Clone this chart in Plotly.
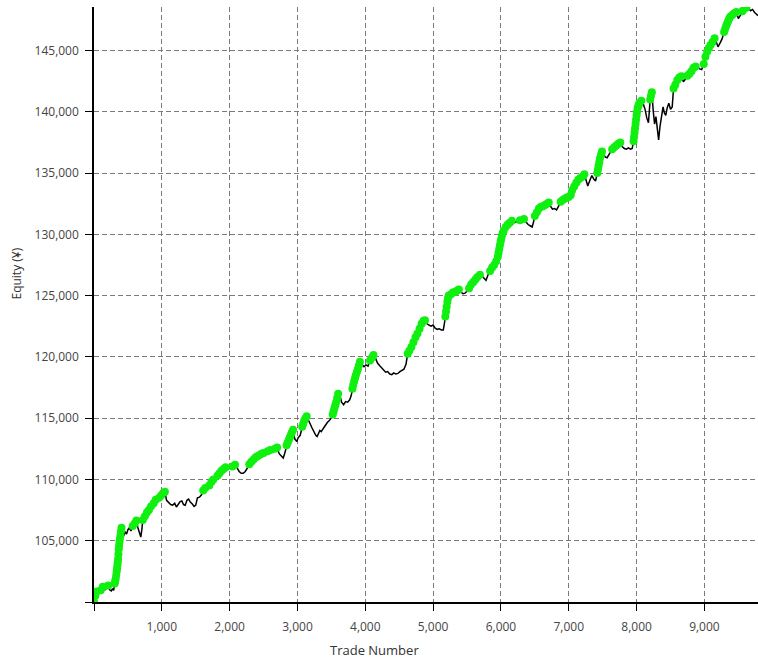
import numpy as np
import plotly.graph_objects as go

trade_num = [
    0, 20, 40, 70, 100, 130, 160, 190, 210, 230, 255, 275, 290, 305, 320, 335, 345, 355, 365, 375,
    390, 405, 420, 440, 460, 480, 500, 520, 545, 570, 600, 625, 645, 665, 690, 705, 720, 750, 780, 810,
    840, 860, 880, 910, 935, 960, 990, 1020, 1045, 1070, 1100, 1130, 1160, 1190, 1215, 1245, 1270, 1295, 1320, 1345,
    1370, 1395, 1420, 1450, 1475, 1500, 1525, 1555, 1585, 1610, 1640, 1670, 1700, 1730, 1760, 1790, 1820, 1850, 1880, 1910,
    1940, 1970, 2000, 2040, 2080, 2110, 2140, 2170, 2200, 2230, 2260, 2290, 2320, 2350, 2380, 2410, 2440, 2470, 2500, 2530,
    2560, 2600,
    2640, 2670, 2700, 2730, 2760, 2790, 2810, 2840, 2870, 2900, 2935, 2960, 2990, 3010, 3040, 3070, 3100, 3135, 3160, 3190,
    3215, 3240, 3270, 3290, 3310, 3330, 3350, 3380, 3410, 3440, 3470, 3500, 3520, 3545, 3570, 3600, 3625, 3650, 3680, 3710,
    3740, 3770, 3790, 3810, 3835, 3860, 3890, 3920, 3950, 3980, 4010, 4040, 4070, 4100, 4120, 4150, 4180, 4210, 4240, 4270,
    4300, 4330, 4360, 4390, 4420, 4450, 4480, 4510, 4540, 4570, 4600, 4625, 4650, 4680, 4710, 4740, 4770, 4800, 4830, 4860,
    4880,
    4910, 4940, 4970, 5000, 5030, 5060, 5090, 5120, 5150, 5170, 5190, 5210, 5230, 5260, 5290, 5320, 5350, 5380, 5410, 5440,
    5470, 5500, 5530, 5560, 5590, 5620, 5650, 5690, 5720, 5750, 5780, 5810, 5840, 5870, 5900, 5930, 5955, 5975, 5995, 6015,
    6040, 6070, 6100, 6130, 6160, 6190, 6220, 6250, 6280, 6310, 6340, 6370, 6400, 6430, 6460, 6480, 6500, 6530, 6560, 6590,
    6620, 6650, 6680, 6705, 6730, 6760, 6790, 6820, 6850, 6880, 6910, 6940, 6970, 7000, 7030, 7050, 7080, 7110, 7140, 7170,
    7200, 7230, 7260, 7280, 7310, 7340, 7370, 7395, 7420, 7440, 7460, 7490,
    7510, 7540, 7565, 7590, 7615, 7640, 7670, 7700, 7730, 7760, 7790, 7820, 7850, 7880, 7910, 7935, 7955, 7970, 7985, 8000,
    8015, 8040, 8070, 8100, 8125, 8150, 8175, 8200, 8225, 8245, 8265, 8285, 8305, 8325, 8345, 8365, 8390, 8410, 8430, 8450,
    8475, 8500, 8525, 8545, 8570, 8600, 8630, 8660, 8690, 8720, 8750, 8780, 8810, 8840, 8870, 8900, 8930, 8960, 8990, 9015,
    9040, 9065, 9090, 9120, 9150, 9175, 9200, 9230, 9260, 9290, 9320, 9350, 9380, 9410, 9440, 9470, 9500, 9530, 9560, 9590,
    9620, 9650, 9680, 9710, 9740, 9770, 9790,
]

equity = [
    100000, 100500, 100850, 100700, 100950, 101250, 101000, 101150, 101350, 101000, 100900, 101100, 100950, 101500, 101900, 102500, 103000, 103500, 104300, 104900,
    105400, 106050, 105600, 105450, 105700, 105550, 105900, 106050, 105800, 106200, 106400, 106650, 106100, 105700, 105300, 105900, 106700, 107000, 107300, 107500,
    107800, 107650, 108050, 108350, 108200, 108500, 108700, 108900, 109000, 108300, 108100, 107950, 107900, 108050, 107750, 107950, 108200, 108250, 107950, 107900,
    108300, 108400, 108150, 108000, 107800, 107900, 108500, 108550, 108750, 109100, 109300, 109200, 109500, 109800, 110000, 109900, 110300, 110500, 110700, 110850,
    111000, 110800, 110950, 111050, 111200, 110950, 110650, 110500, 110500, 110650, 110900, 111250, 111450, 111600, 111800, 111900, 112000, 112100, 112150, 112050,
    112300, 112400,
    112250, 112500, 112600, 112100, 111900, 111750, 112100, 112800, 113200, 113600, 114050, 113300, 113100, 113400, 113600, 114300, 114800, 115150, 114900, 114500,
    114200, 113900, 113600, 113500, 113800, 114000, 113900, 114200, 114400, 114650, 114800, 115050, 115300, 115800, 116300, 117000, 116900, 116300, 116100, 116350,
    116300, 116500, 116800, 117400, 118000, 118500, 119000, 119600, 119400, 119200, 119350, 119250, 119700, 119950, 120150, 119900, 119500, 119300, 119100, 118900,
    118750, 118800, 118600, 118550, 118700, 118600, 118650, 118800, 118900, 119000, 119400, 120250, 120500, 120800, 121200, 121600, 121900, 122300, 122700, 122950,
    123000,
    122700, 122600, 122500, 122600, 122350, 122250, 122300, 122200, 122200, 122900, 123700, 124500, 125000, 125100, 125250, 125300, 125400, 125500, 125300, 125150,
    125200, 125350, 125600, 125900, 126100, 126300, 126500, 126700, 126600, 126400, 126250, 126700, 127000, 127300, 127500, 127800, 128200, 128800, 129400, 129900,
    130300, 130600, 130800, 130950, 131100, 131050, 131000, 131100, 131150, 131050, 131250, 131000, 130800, 130700, 130600, 131000, 131500, 131800, 132100, 132250,
    132300, 132400, 132500, 132600, 132300, 132050, 132100, 132000, 132300, 132650, 132800, 132900, 133000, 133050, 133200, 133600, 133900, 134200, 134450, 134600,
    134700, 134900, 134300, 133950, 134400, 134800, 134500, 134350, 135000, 135600, 136200, 136750,
    136600, 136300, 136250, 136500, 136700, 136950, 137100, 137250, 137400, 137500, 137150, 137000, 136950, 137050, 136950, 137000, 137600, 138300, 139000, 139700,
    140300, 140700, 140900, 140600, 140200, 139500, 139100, 141000, 141600, 140100, 139000, 139600, 138600, 137700, 138800, 139600, 140400, 139900, 139700, 140300,
    140700, 140200, 140400, 141900, 142200, 142600, 142800, 142900, 142450, 142700, 142950, 143100, 143300, 143600, 143700, 143650, 143500, 143450, 143900, 144500,
    144900, 145200, 145450, 145700, 146000, 145700, 145300, 145600, 145950, 146500, 147000, 147400, 147750, 147900, 148050, 148150, 147600, 147900, 148200, 148400,
    148500, 148450, 148250, 148350, 148100, 147950, 147850,
]

# extra readings taken along the steep climbs
steep_trade_num = [
    312, 328, 340, 350, 360, 370, 382, 397,
    2855, 2885, 2918, 3085, 3118,
    3532, 3557, 3585, 3822, 3848, 3875, 3905,
    5160, 5180, 5200, 5220, 5965, 5985, 6005, 6027,
    7430, 7450, 7475, 7945, 7962, 7977, 7992, 8007, 8027, 8212,
    9305, 9335, 9365,
]
steep_equity = [
    101700, 102200, 102750, 103250, 103900, 104600, 105150, 105750,
    113000, 113400, 113850, 114550, 115000,
    115550, 116050, 116650, 117700, 118250, 118750, 119300,
    122500, 123300, 124100, 124800, 128500, 129100, 129650, 130100,
    135300, 135900, 136500, 137300, 137950, 138650, 139350, 140000, 140500, 141300,
    146750, 147200, 147600,
]

x_tick_vals = [0, 1000, 2000, 3000, 4000, 5000, 6000, 7000, 8000, 9000]
x_tick_text = ["", "1,000", "2,000", "3,000", "4,000", "5,000", "6,000", "7,000", "8,000", "9,000"]
y_tick_vals = [100000, 105000, 110000, 115000, 120000, 125000, 130000, 135000, 140000, 145000]
y_tick_text = ["", "105,000", "110,000", "115,000", "120,000", "125,000", "130,000", "135,000", "140,000", "145,000"]

x_all = np.array(trade_num + steep_trade_num)
y_all = np.array(equity + steep_equity)
order = np.argsort(x_all, kind="stable")
x_arr = x_all[order]
y_arr = y_all[order]
prev_max = np.concatenate([[-np.inf], np.maximum.accumulate(y_arr)[:-1]])
is_high = y_arr > prev_max

fig = go.Figure()
fig.add_trace(go.Scatter(
    x=x_arr, y=y_arr, mode="lines",
    line=dict(color="black", width=1.5),
    showlegend=False, hoverinfo="skip",
))
fig.add_trace(go.Scatter(
    x=x_arr[is_high], y=y_arr[is_high], mode="markers",
    marker=dict(color="#10f010", size=8, symbol="circle", line=dict(width=0)),
    showlegend=False,
))

tickfont = dict(family="Open Sans, sans-serif", size=12, color="#454545")
fig.update_layout(
    width=758, height=659,
    margin=dict(l=94, r=0, t=7, b=57),
    paper_bgcolor="white", plot_bgcolor="white",
    xaxis=dict(
        range=[0, 9790], tickmode="array", tickvals=x_tick_vals, ticktext=x_tick_text,
        showgrid=True, gridcolor="#7a7a7a", gridwidth=1, griddash="5px,3px",
        showline=True, linecolor="black", linewidth=1.5,
        ticks="outside", ticklen=7, tickcolor="black", tickwidth=1,
        zeroline=False, tickfont=tickfont, ticklabelstandoff=6,
    ),
    yaxis=dict(
        range=[100000, 148550], tickmode="array", tickvals=y_tick_vals, ticktext=y_tick_text,
        showgrid=True, gridcolor="#7a7a7a", gridwidth=1, griddash="5px,3px",
        showline=True, linecolor="black", linewidth=1.5,
        ticks="outside", ticklen=7, tickcolor="black", tickwidth=1,
        zeroline=False, tickfont=tickfont, ticklabelstandoff=4,
    ),
    annotations=[
        dict(text="Trade Number", xref="paper", yref="paper", x=0.4217, y=-0.0808,
             showarrow=False, xanchor="center", yanchor="middle",
             font=dict(family="Open Sans, sans-serif", size=13, color="#333333")),
        dict(text="Equity (¥)", xref="paper", yref="paper", x=-0.116, y=0.552,
             showarrow=False, xanchor="center", yanchor="middle", textangle=-90,
             font=dict(family="Open Sans, sans-serif", size=12, color="#333333")),
    ],
)

fig.write_html(
    "out.html",
    config={"displayModeBar": False},
    post_script="document.body.style.margin='0';document.body.style.overflow='hidden';",
)
